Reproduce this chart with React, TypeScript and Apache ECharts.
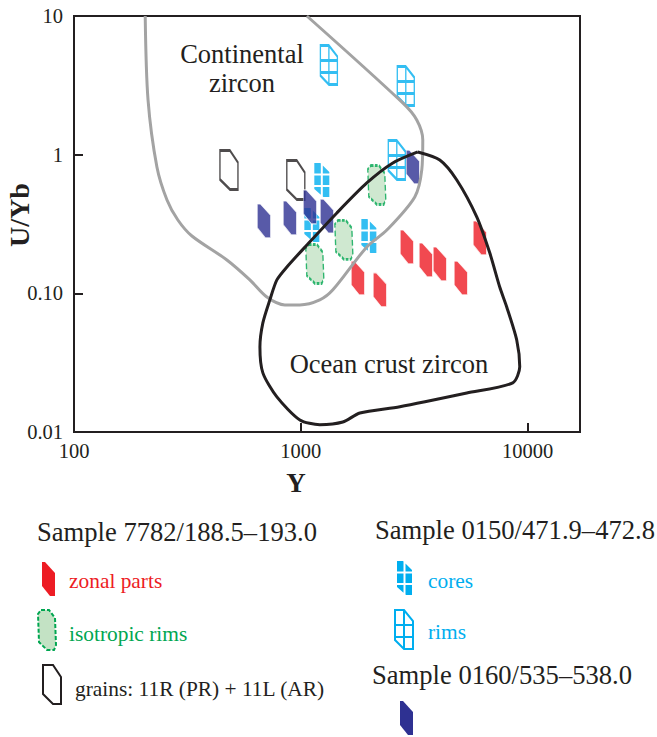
import React, { useEffect, useRef } from 'react';
import * as echarts from 'echarts';

// ---- axis ticks ----
const xTickValues = [100, 1000, 10000];
const xTickLabels = ['100', '1000', '10000'];
const yTickValues = [0.01, 0.1, 1, 10];
const yTickLabels = ['0.01', '0.10', '1', '10'];

// ---- discrimination fields (Y ppm, U/Yb) ----
const continentalY = [206, 212, 232, 257, 287, 331, 472, 596, 708, 850, 990, 1212, 1384, 1953, 2393, 3178, 3412, 3447, 3243, 2813, 1063];
const continentalUYb = [10, 2.48, 0.815, 0.471, 0.338, 0.259, 0.174, 0.125, 0.094, 0.0825, 0.0825, 0.0897, 0.106, 0.216, 0.286, 0.496, 0.776, 1.276, 1.778, 2.36, 10];

const oceanY = [3276, 4096, 4868, 5961, 6801, 7527, 8081, 8944, 9222, 8590, 5388, 2731, 1820, 1531, 1212, 990, 784, 680, 660, 680, 730, 784, 868, 1063, 1441, 1953, 2543, 3276];
const oceanUYb = [1.046, 0.916, 0.657, 0.356, 0.196, 0.111, 0.0798, 0.0461, 0.0295, 0.0226, 0.0191, 0.0152, 0.0137, 0.0118, 0.0113, 0.0122, 0.0179, 0.0267, 0.0411, 0.0612, 0.0897, 0.125, 0.155, 0.223, 0.38, 0.625, 0.871, 1.046];

// ---- Sample 7782/188.5–193.0 ----
const zonalY = [6145, 2931, 3553, 4096, 5068, 1783, 2228];
const zonalUYb = [0.251, 0.216, 0.174, 0.163, 0.129, 0.129, 0.106];
const isoRimY = [2161, 1547, 1152];
const isoRimUYb = [0.605, 0.243, 0.163];
const grainY = [482, 950];
const grainUYb = [0.776, 0.657];

// ---- Sample 0150/471.9–472.8 ----
const coreY = [1237, 1118, 1994];
const coreUYb = [0.657, 0.311, 0.259];
const rimY = [1329, 2901, 2648];
const rimUYb = [4.43, 3.13, 0.916];

// ---- Sample 0160/535–538.0 ----
const s0160Y = [687, 894, 1096, 1302, 3114];
const s0160UYb = [0.333, 0.35, 0.42, 0.361, 0.815];

const RED = '#ed1c24';
const GREEN = '#00a651';
const GREEN_FILL = '#c3e2c4';
const CYAN = '#00aeef';
const NAVY = '#2e3192';
const INK = '#231f20';
const GRAY = '#a3a3a3';
const SERIF = '"Liberation Serif", "Times New Roman", Times, serif';

const ZONAL_D = 'M0,0 L3,0 L13,11 L13,34 L8,34 L0,24 Z';
const GRAIN_D = 'M0,0 L10,0 L18,12 L18,39 L10,39 L0,29 Z';
const ISO_D = 'M3,0 L11,0 L17,8 L18,35 L16,40 L9,40 L1,32 L0,4 Z';
const RIM_D = 'M0,0 L9,0 L18,11 L18,39 L9,39 L0,30 Z M9,0 L9,39 M0,15 L18,15 M0,27 L18,27';
const CORE_D =
  'M0,0 L6,0 L6.5,0.5 L6.5,10.5 L0,10.5 Z M8.5,2.5 L15,9 L15,10.5 L8.5,10.5 Z ' +
  'M0,12.5 L6.5,12.5 L6.5,22 L0,22 Z M8.5,12.5 L15,12.5 L15,22 L8.5,22 Z ' +
  'M0,24 L6.5,24 L6.5,31.8 L0,26 Z M8.5,24 L15,24 L15,34 L9,34 L8.5,33.6 Z';

echarts.graphic.registerShape('iconZonal', echarts.graphic.extendPath(ZONAL_D, {}));
echarts.graphic.registerShape('iconGrain', echarts.graphic.extendPath(GRAIN_D, {}));
echarts.graphic.registerShape('iconIso', echarts.graphic.extendPath(ISO_D, {}));
echarts.graphic.registerShape('iconRim', echarts.graphic.extendPath(RIM_D, {}));
echarts.graphic.registerShape('iconCore', echarts.graphic.extendPath(CORE_D, {}));

const pairs = (xs: number[], ys: number[]) => xs.map((x, i) => [x, ys[i]]);

const tickLabel = (vals: number[], labels: string[]) => (v: number) => {
  const i = vals.findIndex((t) => Math.abs(Math.log10(t) - Math.log10(v)) < 1e-6);
  return i >= 0 ? labels[i] : '';
};

export default function App() {
  const ref = useRef<HTMLDivElement>(null);

  useEffect(() => {
    if (!ref.current) return;
    const chart = echarts.init(ref.current, null, { renderer: 'svg' });

    const axisCommon = {
      splitLine: { show: false },
      minorTick: { show: false },
      axisLine: { show: true, lineStyle: { color: INK, width: 2 } },
      axisTick: { show: true, inside: true, length: 9, lineStyle: { color: INK, width: 2 } },
    };

    const text = (t: string, x: number, y: number, size: number, color: string, extra: any = {}) => ({
      type: 'text',
      x,
      y,
      style: {
        text: t,
        fill: color,
        fontSize: size,
        fontFamily: SERIF,
        align: 'left',
        verticalAlign: 'middle',
        ...extra,
      },
    });

    const option: any = {
      animation: false,
      backgroundColor: '#fff',
      grid: {
        left: 74,
        right: 77,
        top: 16,
        bottom: 305,
        show: true,
        borderColor: INK,
        borderWidth: 2,
      },
      xAxis: {
        type: 'log',
        logBase: 10,
        min: 100,
        max: 17000,
        ...axisCommon,
        axisLabel: {
          formatter: tickLabel(xTickValues, xTickLabels),
          showMaxLabel: false,
          margin: 8,
          fontSize: 20.5,
          fontFamily: SERIF,
          color: INK,
        },
      },
      yAxis: {
        type: 'log',
        logBase: 10,
        min: 0.01,
        max: 10,
        ...axisCommon,
        axisLabel: {
          formatter: tickLabel(yTickValues, yTickLabels),
          margin: 11,
          fontSize: 20.5,
          fontFamily: SERIF,
          color: INK,
        },
      },
      series: [
        {
          name: 'Continental zircon',
          type: 'line',
          data: pairs(continentalY, continentalUYb),
          showSymbol: false,
          smooth: 0.3,
          lineStyle: { color: GRAY, width: 3 },
          silent: true,
        },
        {
          name: 'Ocean crust zircon',
          type: 'line',
          data: pairs(oceanY, oceanUYb),
          showSymbol: false,
          smooth: 0.25,
          lineStyle: { color: INK, width: 3 },
          silent: true,
        },
        {
          name: 'isotropic rims',
          type: 'scatter',
          data: pairs(isoRimY, isoRimUYb),
          symbol: 'path://' + ISO_D,
          symbolSize: [18, 39],
          itemStyle: { color: GREEN_FILL, borderColor: GREEN, borderWidth: 2, borderType: [4, 2] },
        },
        {
          name: 'rims',
          type: 'scatter',
          data: pairs(rimY, rimUYb),
          symbol: 'path://' + RIM_D,
          symbolSize: [17, 39],
          itemStyle: { color: 'rgba(255,255,255,0)', borderColor: CYAN, borderWidth: 2 },
        },
        {
          name: 'cores',
          type: 'scatter',
          data: pairs(coreY, coreUYb),
          symbol: 'path://' + CORE_D,
          symbolSize: [15, 34],
          itemStyle: { color: CYAN, borderWidth: 0 },
        },
        {
          name: 'grains: 11R (PR) + 11L (AR)',
          type: 'scatter',
          data: pairs(grainY, grainUYb),
          symbol: 'path://' + GRAIN_D,
          symbolSize: [18, 39],
          itemStyle: { color: 'rgba(255,255,255,0)', borderColor: INK, borderWidth: 2 },
        },
        {
          name: 'zonal parts',
          type: 'scatter',
          data: pairs(zonalY, zonalUYb),
          symbol: 'path://' + ZONAL_D,
          symbolSize: [13, 34],
          itemStyle: { color: RED, borderColor: '#fff', borderWidth: 0.8 },
        },
        {
          name: 'Sample 0160/535–538.0',
          type: 'scatter',
          data: pairs(s0160Y, s0160UYb),
          symbol: 'path://' + ZONAL_D,
          symbolSize: [13, 34],
          itemStyle: { color: NAVY, borderColor: '#fff', borderWidth: 0.8 },
        },
      ],
      graphic: [
        // field labels
        text('Continental\nzircon', 242, 68, 26.5, INK, { align: 'center', lineHeight: 29 }),
        text('Ocean crust zircon', 389, 364, 26.5, INK, { align: 'center' }),
        // axis names
        {
          type: 'text',
          x: 19,
          y: 215,
          rotation: Math.PI / 2,
          style: {
            text: 'U/Yb',
            fill: INK,
            fontSize: 28,
            fontWeight: 'bold',
            fontFamily: SERIF,
            align: 'center',
            verticalAlign: 'middle',
          },
        },
        text('Y', 296, 483, 27, INK, { align: 'center', fontWeight: 'bold' }),
        // legend – sample 7782
        text('Sample 7782/188.5–193.0', 37, 532, 26.6, INK),
        { type: 'iconZonal', x: 42, y: 562, style: { fill: RED } },
        text('zonal parts', 69, 581, 21.4, RED),
        { type: 'iconIso', x: 38, y: 610, style: { fill: GREEN_FILL, stroke: GREEN, lineWidth: 2, lineDash: [4, 2] } },
        text('isotropic rims', 69, 634, 21.4, GREEN),
        { type: 'iconGrain', x: 43, y: 665, style: { fill: 'none', stroke: INK, lineWidth: 2 } },
        text('grains: 11R (PR) + 11L (AR)', 75, 689, 21.4, INK),
        // legend – sample 0150
        text('Sample 0150/471.9–472.8', 375, 530, 26.6, INK),
        { type: 'iconCore', x: 397, y: 561, style: { fill: CYAN } },
        text('cores', 428, 581, 21.4, CYAN),
        { type: 'iconRim', x: 395, y: 610, style: { fill: 'none', stroke: CYAN, lineWidth: 2 } },
        text('rims', 428, 632, 21.4, CYAN),
        // legend – sample 0160
        text('Sample 0160/535–538.0', 372, 675, 26.6, INK),
        { type: 'iconZonal', x: 400, y: 701, style: { fill: NAVY } },
      ],
    };

    chart.setOption(option);
    return () => chart.dispose();
  }, []);

  return (
    <div
      ref={ref}
      style={{ position: 'fixed', left: 0, top: 0, width: 657, height: 737, background: '#fff' }}
    />
  );
}
